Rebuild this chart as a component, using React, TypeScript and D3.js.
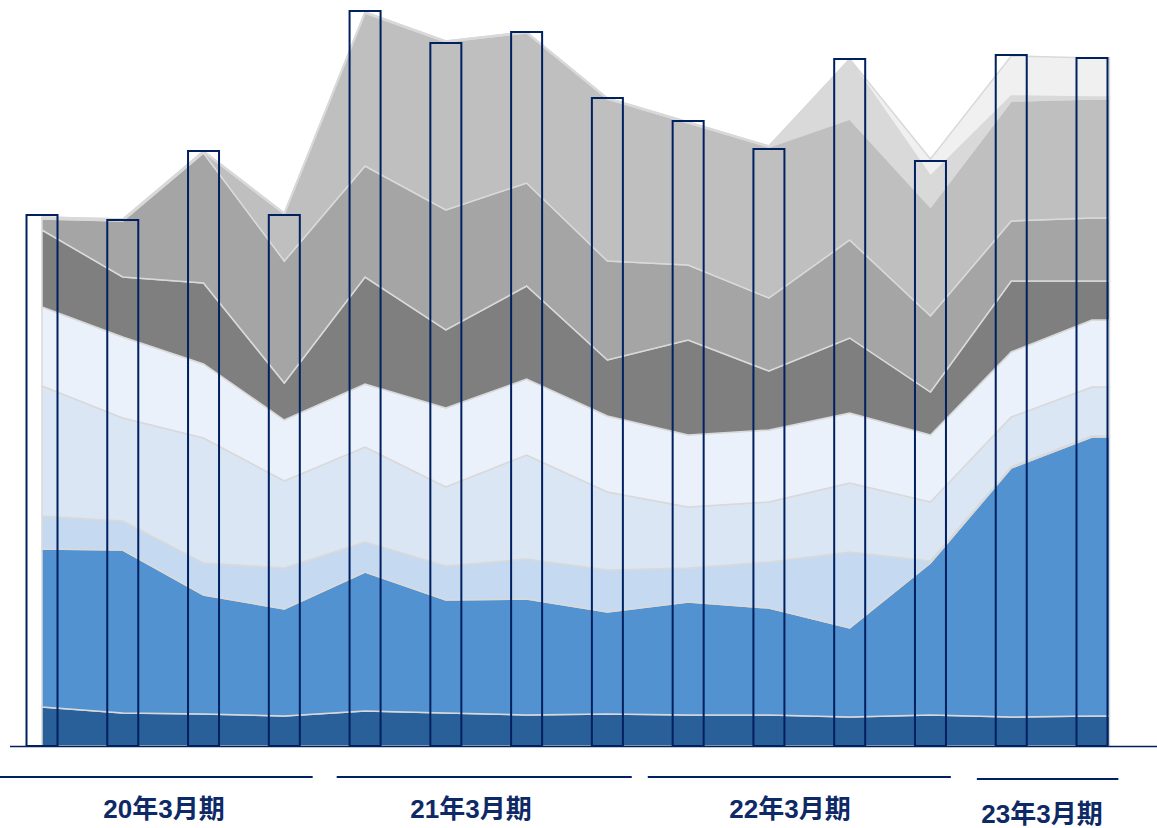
import React from "react";
import * as d3 from "d3";

// Quarters (fiscal years ending March)
const quarters = [
  "FY20 1Q", "FY20 2Q", "FY20 3Q", "FY20 4Q",
  "FY21 1Q", "FY21 2Q", "FY21 3Q", "FY21 4Q",
  "FY22 1Q", "FY22 2Q", "FY22 3Q", "FY22 4Q",
  "FY23 1Q", "FY23 2Q",
];

const fiscalYears = ["20年3月期", "21年3月期", "22年3月期", "23年3月期"];
const fiscalYearQuarterCount = [4, 4, 4, 2];

// Stacked series (bottom to top)
const seriesNames = ["A", "B", "C", "D", "E", "F", "G", "H", "I", "J"];
const sA = [3.9, 3.3, 3.2, 3.0, 3.5, 3.3, 3.1, 3.2, 3.1, 3.1, 2.9, 3.1, 2.9, 3.0];
const sB = [15.8, 16.3, 11.9, 10.7, 13.9, 11.3, 11.6, 10.2, 11.3, 10.7, 8.9, 15.2, 24.9, 27.9];
const sC = [3.3, 2.9, 3.2, 4.1, 3.0, 3.4, 4.0, 4.2, 3.4, 4.6, 7.6, 0.2, 0.1, 0.1];
const sD = [13.0, 10.3, 12.5, 8.7, 9.5, 7.9, 10.4, 7.8, 6.1, 6.0, 6.9, 5.9, 5.0, 4.9];
const sE = [7.9, 8.1, 7.4, 6.1, 6.3, 7.9, 7.6, 7.6, 7.2, 7.2, 7.0, 6.7, 6.5, 6.7];
const sF = [7.7, 6.0, 8.1, 3.7, 10.7, 7.8, 9.3, 5.6, 9.5, 5.9, 7.5, 4.3, 7.1, 3.9];
const sG = [1.1, 5.6, 13.0, 12.2, 11.1, 12.0, 10.3, 9.9, 7.5, 7.3, 9.8, 7.6, 6.0, 6.3];
const sH = [0.1, 0.1, 0.1, 4.7, 15.3, 16.8, 15.0, 16.2, 14.2, 15.1, 12.1, 10.9, 12.0, 11.9];
const sI = [0.1, 0.1, 0.1, 0.1, 0.1, 0.1, 0.1, 0.1, 0.1, 0.1, 5.9, 3.1, 0.5, 0.2];
const sJ = [0, 0, 0, 0, 0, 0, 0, 0, 0, 0, 0.1, 1.7, 4.0, 3.9];

// Outlined bars (totals)
const barTotals = [53.1, 52.6, 59.5, 53.1, 73.5, 70.3, 71.4, 64.8, 62.5, 59.7, 68.7, 58.5, 69.1, 68.8];

const seriesColors = [
  "#2a6099", "#5292d0", "#c5d9f0", "#dae6f3", "#eaf1fa",
  "#7f7f7f", "#a5a5a5", "#bfbfbf", "#d9d9d9", "#f0f0f0",
];

const W = 1157;
const H = 828;
const NAVY = "#002060";

export default function App() {
  const allSeries = [sA, sB, sC, sD, sE, sF, sG, sH, sI, sJ];
  const table = quarters.map((q, i) => {
    const row: Record<string, any> = { q };
    seriesNames.forEach((n, k) => (row[n] = allSeries[k][i]));
    return row;
  });

  const stack = d3.stack<any>().keys(seriesNames);
  const stacked = stack(table);

  const x = d3.scalePoint<string>().domain(quarters).range([42, 1092]);
  const y = d3.scaleLinear().domain([0, 74]).range([746, 6]);
  const step = x.step();
  const barW = 31;

  const area = d3
    .area<{ x: number; y0: number; y1: number }>()
    .x((d) => d.x)
    .y0((d) => y(d.y0))
    .y1((d) => y(d.y1));

  const paths = stacked.map((s) => {
    const pts = s.map((d, i) => ({ x: x(quarters[i]) as number, y0: d[0], y1: d[1] }));
    const last = s[s.length - 1];
    pts.push({ x: (x(quarters[quarters.length - 1]) as number) + barW / 2 + 2, y0: last[0], y1: last[1] });
    return area(pts) as string;
  });

  // fiscal year groups (layout paddings)
  const startPad = [0, 12, 0, 6];
  const endPad = [12, 16, 20, 14];
  const labelCx = [164, 471, 790, 1042];
  let idx = 0;
  const groups = fiscalYears.map((fy, g) => {
    const first = idx;
    const last = idx + fiscalYearQuarterCount[g] - 1;
    idx += fiscalYearQuarterCount[g];
    const cFirst = x(quarters[first]) as number;
    const cLast = x(quarters[last]) as number;
    const start = g === 0 ? 0 : cFirst - step / 2 + startPad[g];
    const end = cLast + step / 2 - endPad[g];
    return { fy, start, end, cx: labelCx[g], dy: g === 3 ? 2 : 0 };
  });

  return (
    <svg
      width={W}
      height={H}
      style={{ position: "absolute", left: 0, top: 0, background: "#fff" }}
    >
      <g>
        {paths.map((p, i) => (
          <path key={i} d={p} fill={seriesColors[i]} stroke="#d9d9d9" strokeWidth={1.5} />
        ))}
      </g>
      <g>
        {barTotals.map((v, i) => (
          <rect
            key={i}
            x={(x(quarters[i]) as number) - barW / 2}
            y={y(v)}
            width={barW}
            height={y(0) - y(v)}
            fill="none"
            stroke={NAVY}
            strokeWidth={2}
          />
        ))}
      </g>
      <line x1={10} x2={W} y1={y(0) + 0.5} y2={y(0) + 0.5} stroke={NAVY} strokeWidth={1.5} />
      <g>
        {groups.map((g, i) => (
          <g key={i}>
            <line x1={g.start} x2={g.end} y1={777 + g.dy} y2={777 + g.dy} stroke={NAVY} strokeWidth={2} />
            <text
              x={g.cx}
              y={818 + g.dy * 2.5}
              textAnchor="middle"
              fontFamily="'Liberation Sans', 'Noto Sans CJK JP', sans-serif"
              fontWeight="bold"
              fontSize={26}
              fill="#0e2a66"
            >
              {g.fy}
            </text>
          </g>
        ))}
      </g>
    </svg>
  );
}
